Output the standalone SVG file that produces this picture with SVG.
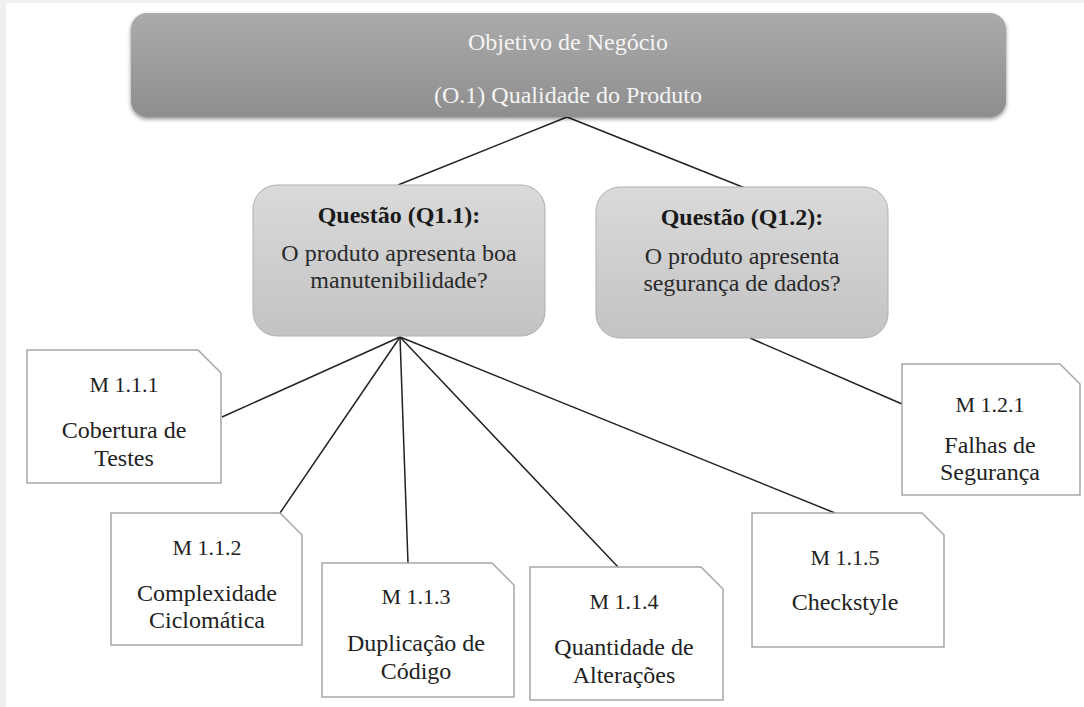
<svg xmlns="http://www.w3.org/2000/svg" width="1084" height="707" viewBox="0 0 1084 707">
<defs>
<linearGradient id="gTop" x1="0" y1="0" x2="0" y2="1">
<stop offset="0" stop-color="#ababab"/>
<stop offset="1" stop-color="#8e8e8e"/>
</linearGradient>
<linearGradient id="gQ" x1="0" y1="0" x2="0" y2="1">
<stop offset="0" stop-color="#dadada"/>
<stop offset="1" stop-color="#c3c3c3"/>
</linearGradient>
<filter id="sh" x="-5%" y="-10%" width="110%" height="125%">
<feGaussianBlur in="SourceAlpha" stdDeviation="2"/>
<feOffset dx="0" dy="2" result="b"/>
<feComponentTransfer><feFuncA type="linear" slope="0.45"/></feComponentTransfer>
<feMerge><feMergeNode/><feMergeNode in="SourceGraphic"/></feMerge>
</filter>
</defs>
<style>
text{font-family:"Liberation Serif","Times New Roman",serif;text-anchor:middle}
.top{font-size:24px;fill:#f4f4f4}
.qh{font-size:24px;font-weight:bold;fill:#1a1a1a}
.qt{font-size:24px;fill:#2a2a2a}
.mi{font-size:22px;fill:#222}
.mt{font-size:24px;fill:#222}
.m{fill:#fff;stroke:#a6a6a6;stroke-width:1.5}
.c line{stroke:#222;stroke-width:1.5}
</style>
<rect width="1084" height="707" fill="#f0f0f0"/>
<rect x="6" y="3" width="1078" height="704" fill="#fff"/>
<g class="c" id="connectors">
<line x1="567" y1="117" x2="398" y2="185"/>
<line x1="567" y1="117" x2="745" y2="188"/>
<line x1="400" y1="337" x2="222" y2="417"/>
<line x1="400" y1="337" x2="280" y2="513"/>
<line x1="400" y1="337" x2="408" y2="563"/>
<line x1="400" y1="337" x2="618" y2="567"/>
<line x1="400" y1="337" x2="835" y2="513"/>
<line x1="750" y1="338" x2="902" y2="404"/>
</g>
<g id="goal">
<rect x="131" y="13" width="875" height="104" rx="16" fill="url(#gTop)" filter="url(#sh)"/>
<text class="top" x="568" y="50">Objetivo de Negócio</text>
<text class="top" x="568" y="103">(O.1) Qualidade do Produto</text>
</g>
<g id="q11">
<rect x="253" y="185" width="292" height="151" rx="24" fill="url(#gQ)" stroke="#b0b0b0" stroke-width="1"/>
<text class="qh" x="399" y="223">Questão (Q1.1):</text>
<text class="qt" x="399" y="261">O produto apresenta boa</text>
<text class="qt" x="399" y="288">manutenibilidade?</text>
</g>
<g id="q12">
<rect x="596" y="187" width="292" height="151" rx="24" fill="url(#gQ)" stroke="#b0b0b0" stroke-width="1"/>
<text class="qh" x="742" y="225">Questão (Q1.2):</text>
<text class="qt" x="742" y="264">O produto apresenta</text>
<text class="qt" x="742" y="291">segurança de dados?</text>
</g>
<g id="m111">
<path class="m" d="M27 350 H198 L221 373 V483 H27 Z"/>
<text class="mi" x="124" y="392">M 1.1.1</text>
<text class="mt" x="124" y="438">Cobertura de</text>
<text class="mt" x="124" y="466">Testes</text>
</g>
<g id="m112">
<path class="m" d="M111 513 H280 L302 535 V645 H111 Z"/>
<text class="mi" x="207" y="555">M 1.1.2</text>
<text class="mt" x="207" y="601">Complexidade</text>
<text class="mt" x="207" y="628">Ciclomática</text>
</g>
<g id="m113">
<path class="m" d="M322 563 H492 L514 585 V697 H322 Z"/>
<text class="mi" x="416" y="604">M 1.1.3</text>
<text class="mt" x="416" y="651">Duplicação de</text>
<text class="mt" x="416" y="679">Código</text>
</g>
<g id="m114">
<path class="m" d="M530 567 H701 L723 589 V700 H530 Z"/>
<text class="mi" x="624" y="609">M 1.1.4</text>
<text class="mt" x="624" y="655">Quantidade de</text>
<text class="mt" x="624" y="683">Alterações</text>
</g>
<g id="m115">
<path class="m" d="M752 513 H922 L944 535 V647 H752 Z"/>
<text class="mi" x="845" y="565">M 1.1.5</text>
<text class="mt" x="845" y="610">Checkstyle</text>
</g>
<g id="m121">
<path class="m" d="M902 364 H1060 L1080 384 V495 H902 Z"/>
<text class="mi" x="990" y="412">M 1.2.1</text>
<text class="mt" x="990" y="453">Falhas de</text>
<text class="mt" x="990" y="480">Segurança</text>
</g>
</svg>
